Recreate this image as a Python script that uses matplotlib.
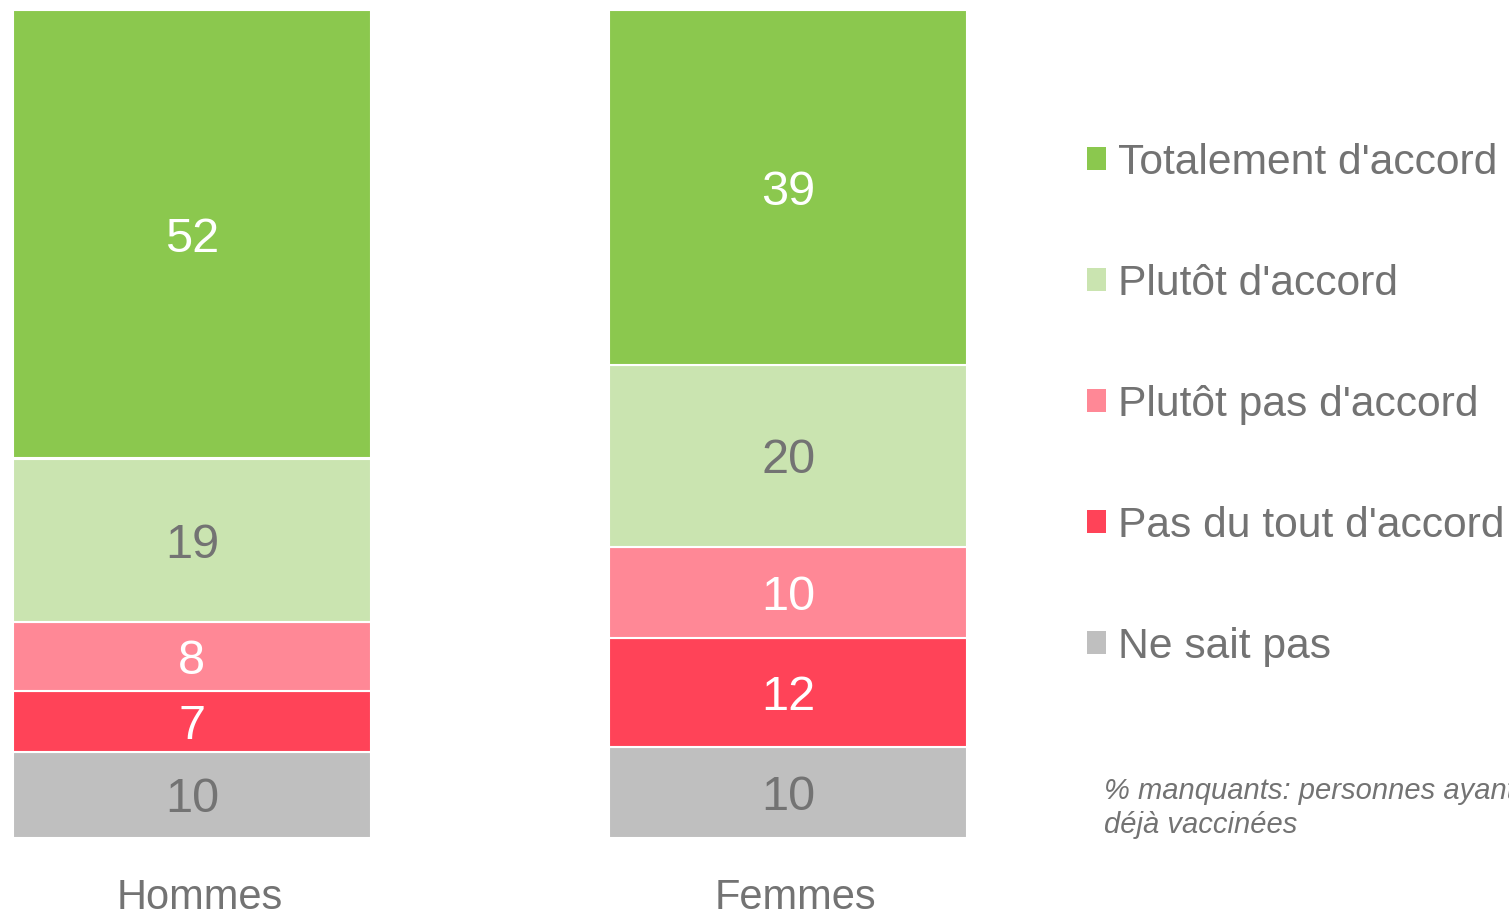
import matplotlib.pyplot as plt
import matplotlib.transforms as mtransforms
import numpy as np
from matplotlib.patches import Patch

plt.rcParams['font.family'] = ['Liberation Sans', 'DejaVu Sans']

# Données (pourcentages affichés, du bas vers le haut)
groupes = ['Hommes', 'Femmes']
reponses = ['Ne sait pas', "Pas du tout d'accord", "Plutôt pas d'accord",
            "Plutôt d'accord", "Totalement d'accord"]
hommes = [10, 7, 8, 19, 52]
femmes = [10, 12, 10, 20, 39]
couleurs = ['#bfbfbf', '#ff4358', '#ff8896', '#cae4b0', '#8bc84e']
couleurs_texte = ['#737373', 'white', 'white', '#737373', 'white']
gris = '#737373'

valeurs = np.array([hommes, femmes], dtype=float)
parts = valeurs / valeurs.sum(axis=1, keepdims=True)

fig = plt.figure(figsize=(15.09, 9.16), dpi=100)
ax = fig.add_axes([13 / 1509, 78 / 916, 954 / 1509, 828 / 916])

# petit décalage vertical des étiquettes
trans_num = mtransforms.offset_copy(ax.transData, fig=fig, y=-3.6, units='points')

x = np.arange(len(groupes))
bas = np.zeros(len(groupes))
for i, rep in enumerate(reponses):
    ax.bar(x, parts[:, i], 0.6, bottom=bas, color=couleurs[i],
           edgecolor='white', linewidth=1.5, label=rep)
    for j in range(len(groupes)):
        ax.text(x[j], bas[j] + parts[j, i] / 2, f'{valeurs[j, i]:.0f}',
                ha='center', va='center', fontsize=35,
                color=couleurs_texte[i], transform=trans_num)
    bas += parts[:, i]

for j, g in enumerate(groupes):
    ax.text(x[j] + 0.013, -0.072, g, ha='center', va='center',
            fontsize=30, color=gris, transform=ax.get_xaxis_transform())

ax.set_xlim(-0.3, 1.3)
ax.set_ylim(0, 1)
ax.axis('off')

# Légende (ordre inversé)
poignees = [Patch(facecolor=c, edgecolor='none') for c in couleurs[::-1]]
fig.legend(poignees, reponses[::-1], loc='upper left',
           bbox_to_anchor=(1087 / 1509, 1 - 143 / 916), frameon=False,
           fontsize=30.7, labelcolor=gris, handlelength=0.45, handleheight=0.45,
           handletextpad=0.28, labelspacing=1.9, borderpad=0, borderaxespad=0)

fig.text(1104 / 1509, 1 - 808 / 916, '% manquants: personnes ayant\ndéjà vaccinées',
         fontsize=21, style='italic', color=gris, va='center', ha='left',
         linespacing=1.25)

fig.savefig('out.png', dpi=100)
